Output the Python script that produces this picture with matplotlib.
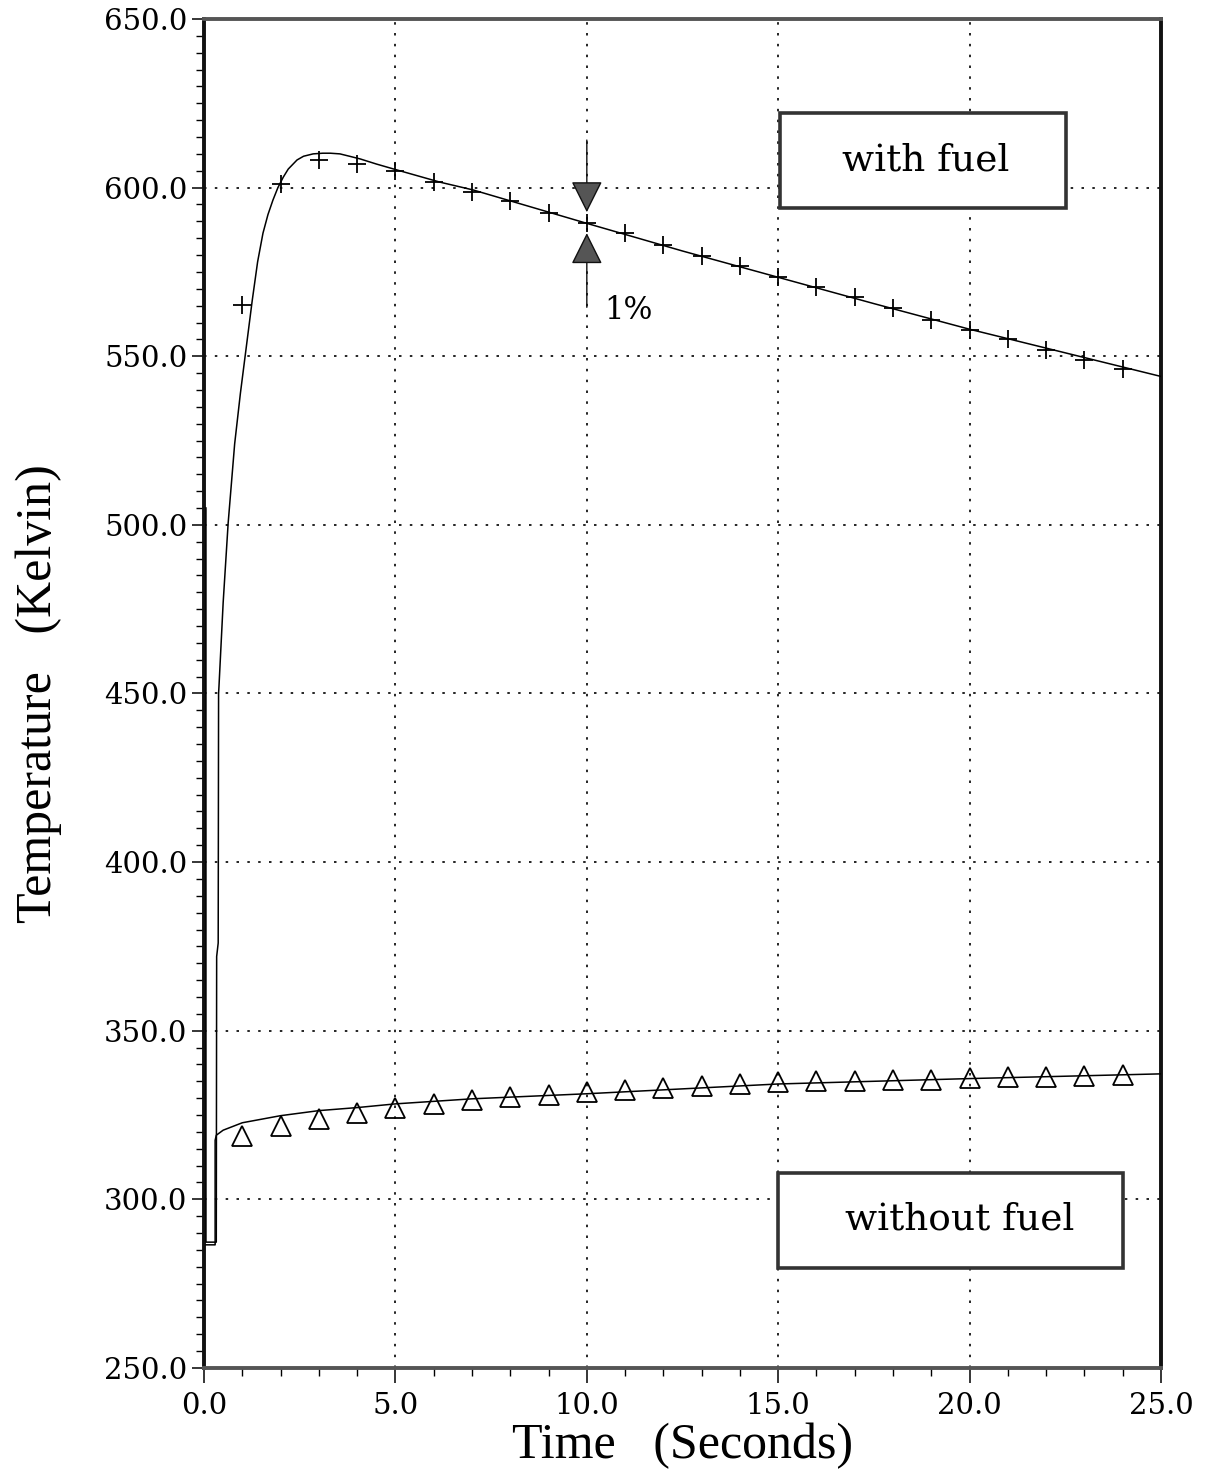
import numpy as np
import matplotlib.pyplot as plt
from matplotlib.patches import Rectangle
from matplotlib.ticker import MultipleLocator, FormatStrFormatter

# continuous curves
fuel_line_t = [0.05, 0.05, 0.32, 0.33, 0.37, 0.38, 0.39, 0.50, 0.63, 0.80, 0.95, 1.07, 1.26,
               1.40, 1.54, 1.67, 1.80, 1.93, 2.07, 2.20, 2.43, 2.60, 2.85, 3.10, 3.30,
               3.55, 3.80, 4.08, 4.50, 5.05, 6.17, 7.03, 8.5,
               10.0, 12.5, 15.0, 17.5, 20.0, 25.0]
fuel_line_T = [505.0, 287.3, 287.3, 372.0, 376.0, 450.0, 452.0, 477.0, 500.5, 524.0, 539.0, 549.7, 566.6,
               578.0, 586.5, 592.0, 596.3, 600.0, 603.1, 605.5, 608.2, 609.3, 610.0, 610.2, 610.2,
               610.0, 609.3, 608.5, 607.0, 605.2, 601.6, 599.3, 594.4,
               589.4, 581.2, 573.4, 565.6, 558.0, 544.0]

nofuel_line_t = [0.05, 0.29, 0.29, 0.32, 0.5, 1.0, 2.0, 3.0, 4.0, 5.0, 7.0, 10.0,
                 15.0, 20.0, 25.0]
nofuel_line_T = [286.5, 286.5, 317.5, 319.0, 320.5, 322.7, 324.8, 326.3, 327.2, 328.3,
                 329.8, 331.3, 334.2, 335.8, 337.2]

# measured points
marker_t = np.arange(1, 25)
fuel_pts = [565.1, 601.2, 608.2, 607.0, 605.0, 601.7, 598.8, 596.0, 592.5, 589.4,
            586.4, 582.9, 579.7, 576.7, 573.5, 570.6, 567.6, 564.2, 560.7, 557.7,
            555.0, 551.8, 548.8, 546.1]
nofuel_pts = [318.8, 321.7, 323.9, 325.5, 327.1, 328.4, 329.5, 330.4, 331.0, 331.9,
              332.5, 333.1, 333.7, 334.3, 334.7, 335.0, 335.2, 335.4, 335.4, 335.9,
              336.2, 336.4, 336.5, 336.8]

tick_font = "DejaVu Serif"
label_font = "Liberation Serif"

fig = plt.figure(figsize=(12.08, 14.72), dpi=100)
ax = fig.add_axes([0.1689, 0.0707, 0.7922, 0.9164])

ax.set_xlim(0, 25)
ax.set_ylim(250, 650)
ax.xaxis.set_major_locator(MultipleLocator(5))
ax.xaxis.set_minor_locator(MultipleLocator(1))
ax.yaxis.set_major_locator(MultipleLocator(50))
ax.yaxis.set_minor_locator(MultipleLocator(5))
ax.xaxis.set_major_formatter(FormatStrFormatter('%.1f'))
ax.yaxis.set_major_formatter(FormatStrFormatter('%.1f'))

ax.tick_params(which='major', direction='out', length=11, width=1.1, labelsize=21, pad=6)
ax.tick_params(which='minor', direction='out', length=5.5, width=1.0)
ax.tick_params(axis='y', which='major', length=9, pad=3)
for lab in ax.get_xticklabels() + ax.get_yticklabels():
    lab.set_fontfamily(tick_font)

# dotted grid at major ticks only
ax.grid(True, which='major', color='black', linestyle=(0, (1.5, 5)), linewidth=1.2)
ax.set_axisbelow(True)

for side in ['left', 'right']:
    ax.spines[side].set_linewidth(2.8)
    ax.spines[side].set_color('#111111')
for side in ['top', 'bottom']:
    ax.spines[side].set_linewidth(2.8)
    ax.spines[side].set_color('#555555')

ax.plot(fuel_line_t, fuel_line_T, color='black', linewidth=1.1, zorder=3)
ax.plot(nofuel_line_t, nofuel_line_T, color='black', linewidth=1.1, zorder=3)
ax.plot(marker_t, fuel_pts, linestyle='none', marker='+', markersize=13,
        markeredgewidth=1.3, color='black', zorder=4)
ax.plot(marker_t, nofuel_pts, linestyle='none', marker='^', markersize=14,
        markeredgewidth=1.3, markerfacecolor='none', markeredgecolor='black', zorder=4)

# 1% error arrows
arrow_kw = dict(arrowstyle='-|>,head_length=1.0,head_width=0.5', mutation_scale=20,
                edgecolor='#111111', facecolor='#555555', linewidth=1.0, shrinkA=0, shrinkB=0)
ax.annotate('', xy=(10, 592.7), xytext=(10, 614.1), arrowprops=arrow_kw, zorder=5)
ax.annotate('', xy=(10, 586.5), xytext=(10, 564.5), arrowprops=arrow_kw, zorder=5)
ax.text(10.45, 563.7, '1%', fontsize=22, fontfamily=tick_font, ha='left', va='center')

# label boxes
ax.add_patch(Rectangle((15.05, 594.0), 7.47, 28.1, facecolor='white',
                       edgecolor='#333333', linewidth=2.6, zorder=5))
ax.text(18.85, 607.9, 'with fuel', fontsize=27, fontfamily=tick_font,
        ha='center', va='center', zorder=6)
ax.add_patch(Rectangle((15.0, 279.6), 9.0, 28.2, facecolor='white',
                       edgecolor='#333333', linewidth=2.6, zorder=5))
ax.text(19.75, 293.9, 'without fuel', fontsize=27, fontfamily=tick_font,
        ha='center', va='center', zorder=6)

ax.set_xlabel('Time   (Seconds)', fontsize=36, fontfamily=label_font, labelpad=2)
ax.set_ylabel('Temperature   (Kelvin)', fontsize=36, fontfamily=label_font, labelpad=30)

fig.savefig('out.png', dpi=100)
